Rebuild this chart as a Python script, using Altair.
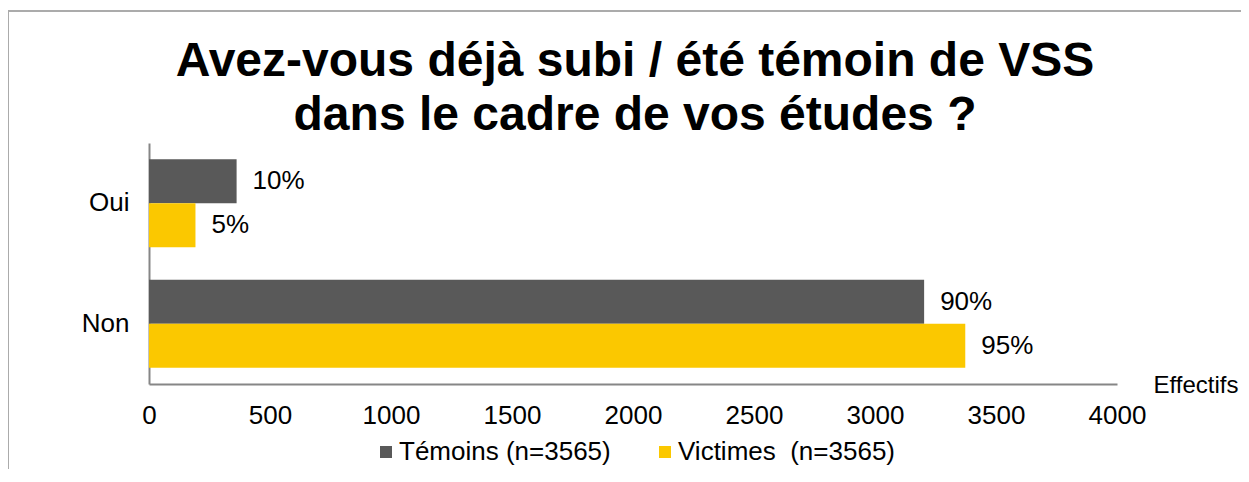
import altair as alt
import pandas as pd

# Data
categories = ["Oui", "Non"]
series = ["Témoins (n=3565)", "Victimes\u00a0 (n=3565)"]
temoins_values = [362, 3203]
victimes_values = [192, 3373]
temoins_labels = ["10%", "90%"]
victimes_labels = ["5%", "95%"]
x_ticks = [0, 500, 1000, 1500, 2000, 2500, 3000, 3500, 4000]
colors = ["#595959", "#FBC800"]
title_lines = ["Avez-vous déjà subi / été témoin de VSS",
               "dans le cadre de vos études ?"]

rows = []
for c, v, l in zip(categories, temoins_values, temoins_labels):
    rows.append({"Réponse": c, "Série": series[0], "Effectifs": v, "Label": l})
for c, v, l in zip(categories, victimes_values, victimes_labels):
    rows.append({"Réponse": c, "Série": series[1], "Effectifs": v, "Label": l})
df = pd.DataFrame(rows)

FONT = "Liberation Sans"

y_enc = alt.Y(
    "Réponse:N",
    sort=categories,
    scale=alt.Scale(paddingInner=0.27, paddingOuter=0.135),
    axis=alt.Axis(
        title=None, ticks=False, labelFontSize=26, labelFont=FONT,
        labelColor="black", labelPadding=20, domainColor="#868686",
        domainWidth=2,
    ),
)
yoff_enc = alt.YOffset("Série:N", sort=series,
                       scale=alt.Scale(paddingInner=0, paddingOuter=0))
x_enc = alt.X(
    "Effectifs:Q",
    scale=alt.Scale(domain=[0, 4000], nice=False),
    axis=alt.Axis(
        values=x_ticks, format="d", grid=False, ticks=False, labelFontSize=26,
        labelFont=FONT, labelColor="black", labelPadding=18, labelFlush=False,
        domainColor="#868686", domainWidth=2,
        title="Effectifs", titleFont=FONT, titleFontSize=24,
        titleFontWeight="normal", titleColor="black",
        titleAlign="left", titleBaseline="alphabetic",
        titleX=1004, titleY=8, titleAngle=0,
    ),
)

bars = alt.Chart(df).mark_bar().encode(
    y=y_enc,
    yOffset=yoff_enc,
    x=x_enc,
    color=alt.Color(
        "Série:N",
        scale=alt.Scale(domain=series, range=colors),
        legend=alt.Legend(
            title=None, orient="none", direction="horizontal",
            legendX=224, legendY=296, symbolType="square",
            symbolSize=144, symbolStrokeWidth=0, labelFontSize=26,
            labelFont=FONT, labelColor="black", labelLimit=400,
            columnPadding=41, labelOffset=0, padding=0,
        ),
    ),
)

texts = alt.Chart(df).mark_text(
    align="left", baseline="middle", dx=16, fontSize=26, font=FONT,
    color="black",
).encode(
    y=alt.Y("Réponse:N", sort=categories),
    yOffset=alt.YOffset("Série:N", sort=series),
    x=alt.X("Effectifs:Q"),
    text="Label:N",
)

one = pd.DataFrame({"a": [0]})

border = alt.Chart(one).mark_rect(
    fill=None, stroke="#ababab", strokeWidth=2, clip=False,
).encode(
    x=alt.value(-141), x2=alt.value(1400),
    y=alt.value(-132), y2=alt.value(700),
)

title1 = alt.Chart(one).mark_text(
    text=title_lines[0], fontSize=48, font=FONT, fontWeight="bold",
    color="black", align="center", baseline="alphabetic", clip=False,
).encode(x=alt.value(486), y=alt.value(-67))

title2 = alt.Chart(one).mark_text(
    text=title_lines[1], fontSize=48, font=FONT, fontWeight="bold",
    color="black", align="center", baseline="alphabetic", clip=False,
).encode(x=alt.value(486), y=alt.value(-13))

chart = alt.layer(border, bars, texts, title1, title2).properties(
    width=968,
    height=241,
    autosize=alt.AutoSizeParams(type="none"),
    padding={"left": 141, "top": 135, "right": 124, "bottom": 85},
).configure_view(stroke=None)

chart.save("out.html", embed_options={"renderer": "svg", "actions": False})
